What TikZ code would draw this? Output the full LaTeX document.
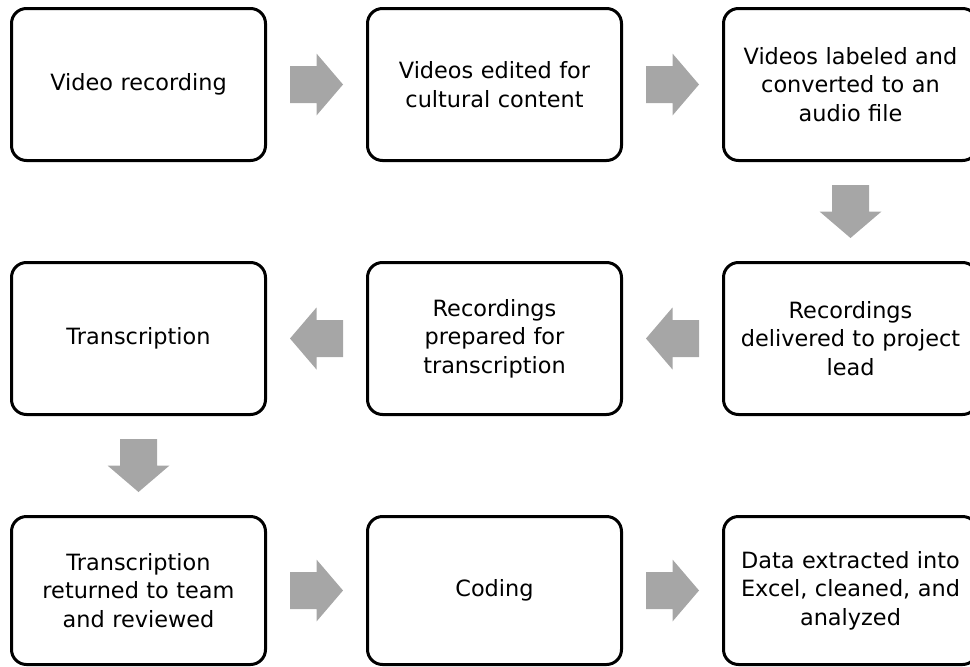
\documentclass[tikz,border=0pt]{standalone}
\usepackage{fontspec}
\setmainfont{DejaVu Sans}
\usetikzlibrary{calc}
\definecolor{arrowgray}{HTML}{A6A6A6}
\begin{document}
\begin{tikzpicture}[x=1pt,y=-1pt,
  stepbox/.style={draw=black, line width=3pt, rounded corners=15pt,
    minimum width=254pt, minimum height=152pt, align=center,
    font=\fontsize{22.4}{28.5}\selectfont, inner sep=0pt, text width=250pt},
  pics/barrow/.style={code={\fill[arrowgray] (-26.5,-18.5) -- (0,-18.5) -- (0,-31) -- (26.5,0) -- (0,31) -- (0,18.5) -- (-26.5,18.5) -- cycle;}}]
\useasboundingbox (0,0) rectangle (970,667);
\clip (0,0) rectangle (970,667);
\node[stepbox] (b1) at (138.5,84.5) {Video recording};
\node[stepbox] (b2) at (494.5,84.5) {Videos edited for\\cultural content};
\node[stepbox] (b3) at (850.5,84.5) {Videos labeled and\\converted to an\\audio file};
\node[stepbox] (b4) at (850.5,338.5) {Recordings\\delivered to project\\lead};
\node[stepbox] (b5) at (494.5,338.5) {Recordings\\prepared for\\transcription};
\node[stepbox] (b6) at (138.5,338.5) {Transcription};
\node[stepbox,minimum height=148pt] (b7) at (138.5,590.5) {Transcription\\returned to team\\and reviewed};
\node[stepbox,minimum height=148pt] (b8) at (494.5,590.5) {Coding};
\node[stepbox,minimum height=148pt] (b9) at (850.5,590.5) {Data extracted into\\Excel, cleaned, and\\analyzed};
\pic at ($(b1.east)!0.5!(b2.west)$) {barrow};
\pic at ($(b2.east)!0.5!(b3.west)$) {barrow};
\pic[rotate=-90] at ($(b3.south)!0.5!(b4.north)$) {barrow};
\pic[rotate=180] at ($(b4.west)!0.5!(b5.east)$) {barrow};
\pic[rotate=180] at ($(b5.west)!0.5!(b6.east)$) {barrow};
\pic[rotate=-90] at ($(b6.south)!0.5!(b7.north)$) {barrow};
\pic at ($(b7.east)!0.5!(b8.west)$) {barrow};
\pic at ($(b8.east)!0.5!(b9.west)$) {barrow};
\end{tikzpicture}
\end{document}
